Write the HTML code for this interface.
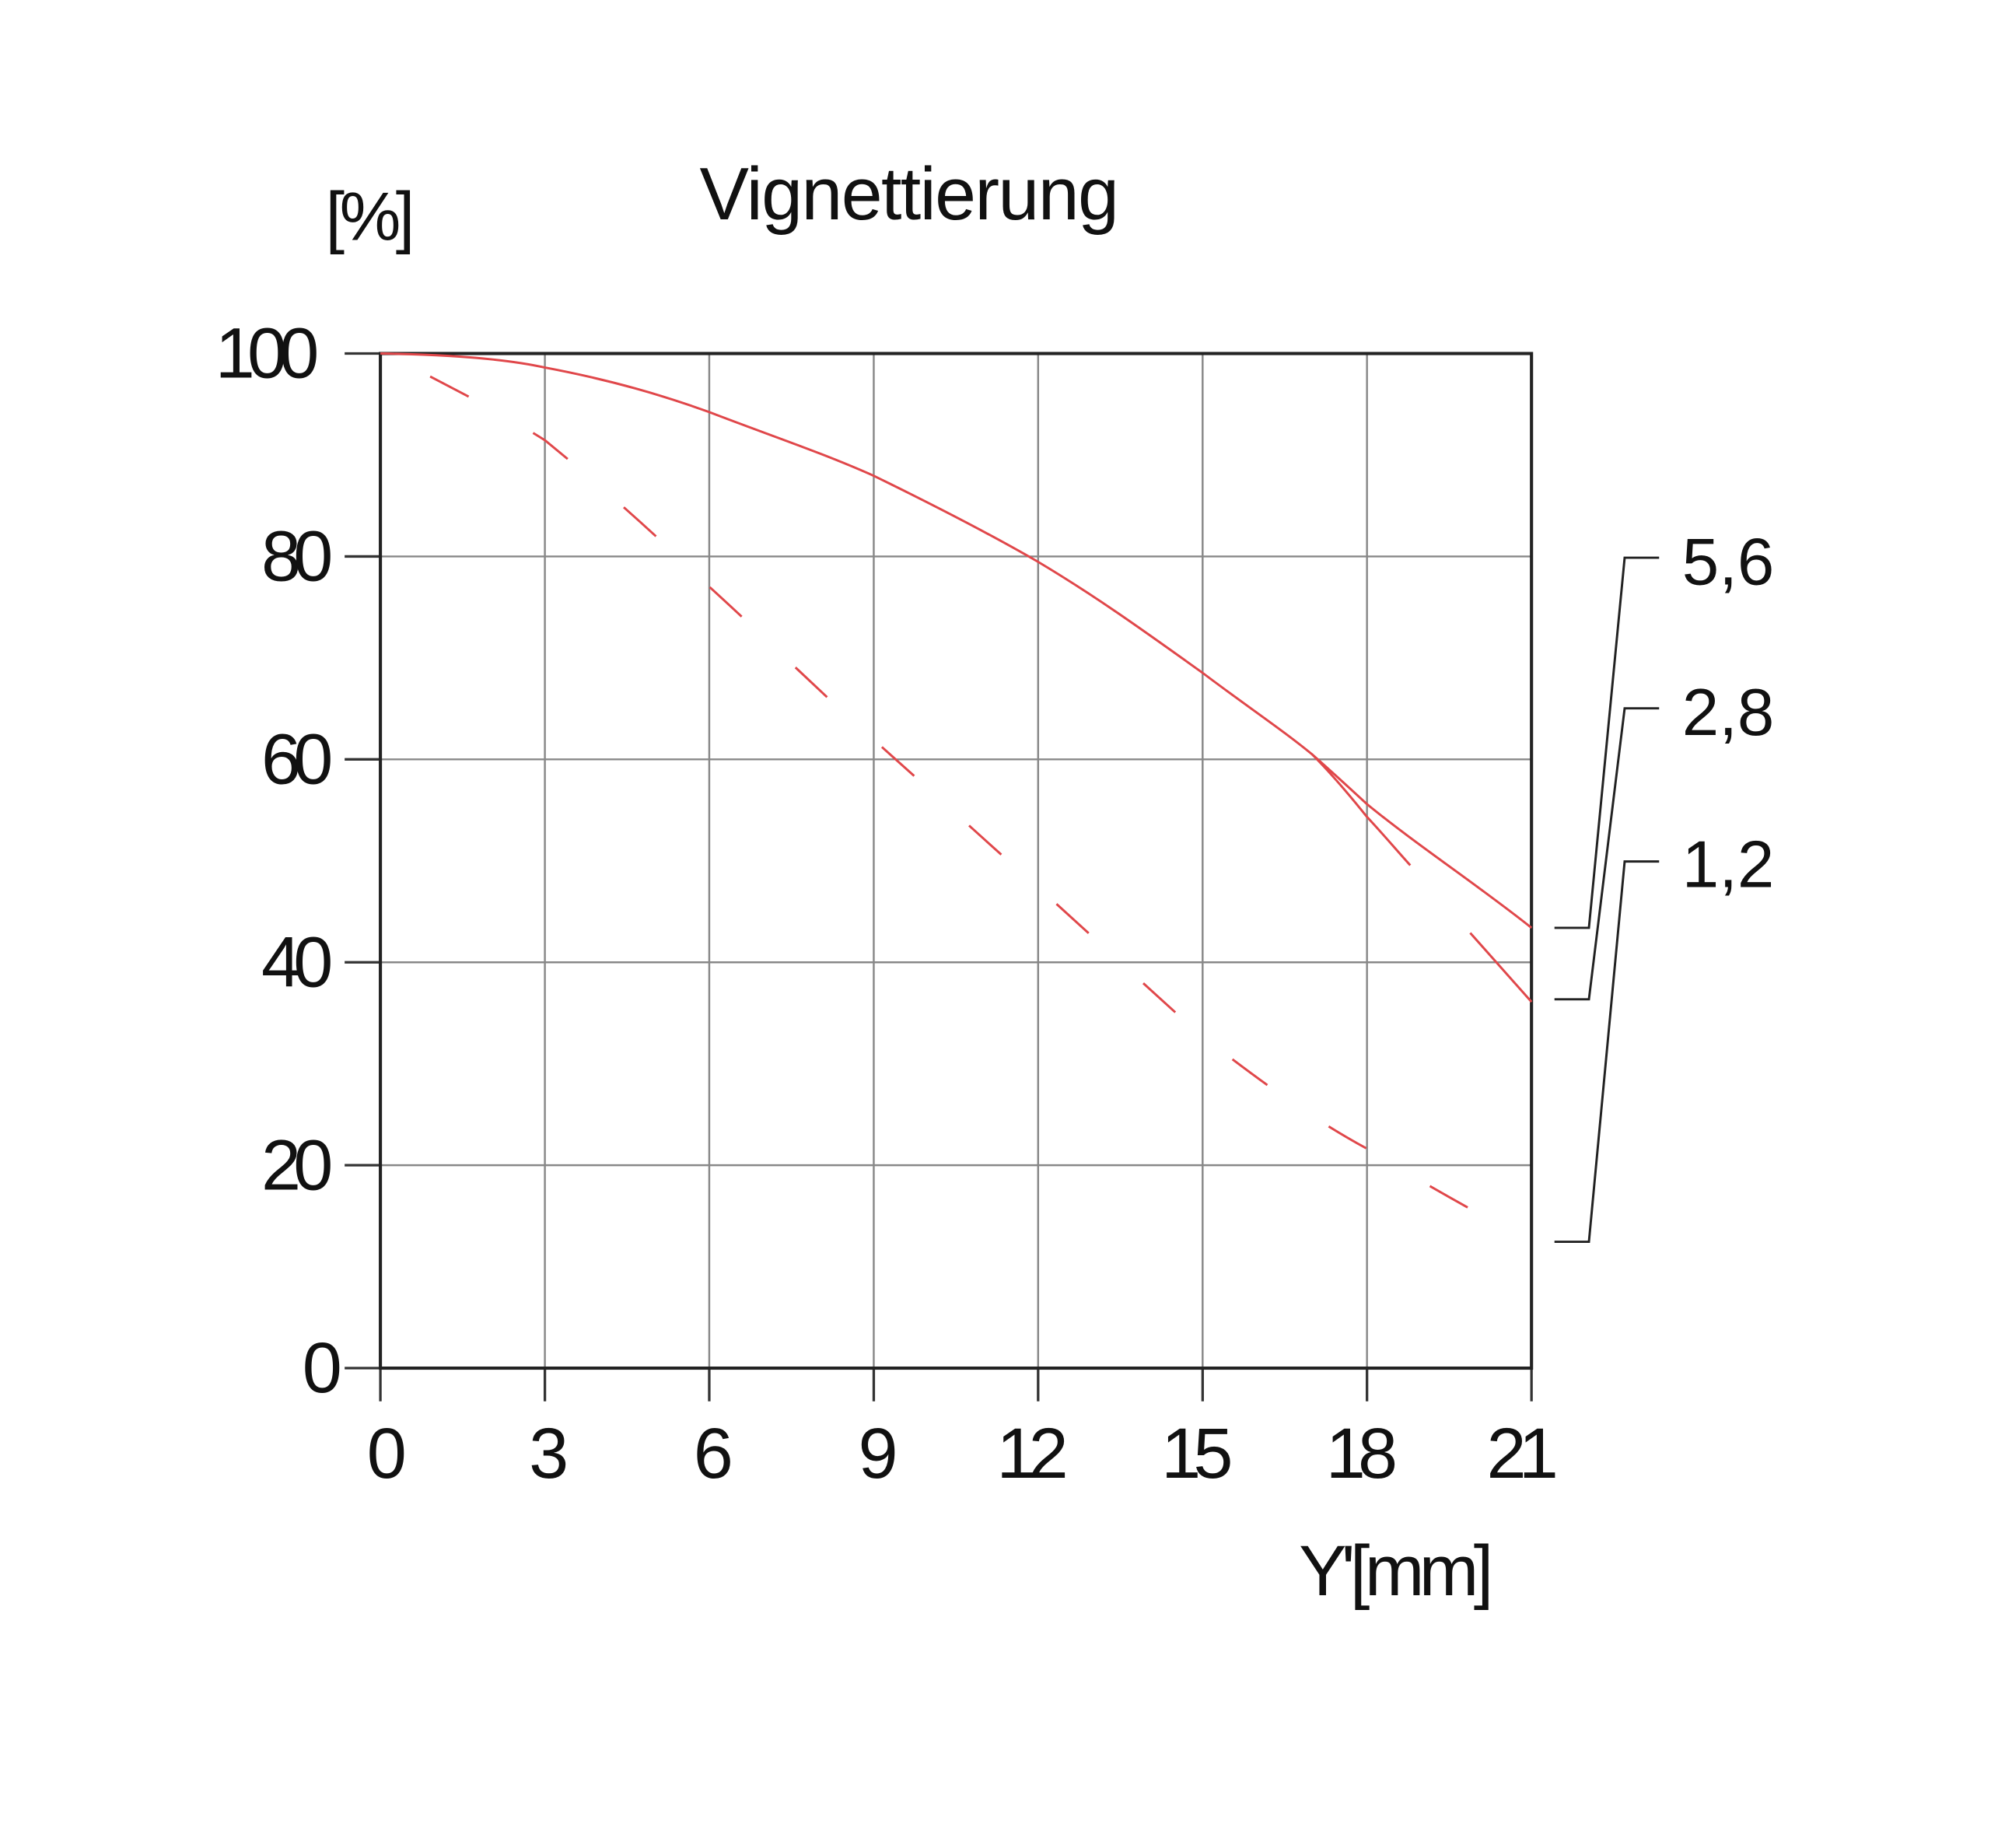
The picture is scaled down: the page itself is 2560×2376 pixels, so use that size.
<!DOCTYPE html>
<html><head><meta charset="utf-8"><style>html,body{margin:0;padding:0;background:#fff}svg{display:block}</style></head>
<body>
<svg width="2560" height="2376" viewBox="0 0 1560 1448" xmlns="http://www.w3.org/2000/svg">
<rect width="1560" height="1448" fill="#fff"/>
<g stroke="#888" stroke-width="1.5">
<line x1="426.9" y1="277" x2="426.9" y2="1072"/><line x1="555.7" y1="277" x2="555.7" y2="1072"/>
<line x1="684.6" y1="277" x2="684.6" y2="1072"/><line x1="813.4" y1="277" x2="813.4" y2="1072"/>
<line x1="942.3" y1="277" x2="942.3" y2="1072"/><line x1="1071.1" y1="277" x2="1071.1" y2="1072"/>
<line x1="298" y1="436" x2="1200" y2="436"/><line x1="298" y1="595" x2="1200" y2="595"/>
<line x1="298" y1="754" x2="1200" y2="754"/><line x1="298" y1="913" x2="1200" y2="913"/>
</g>
<g stroke="#333" stroke-width="2">
<line x1="426.9" y1="1072" x2="426.9" y2="1098"/><line x1="555.7" y1="1072" x2="555.7" y2="1098"/>
<line x1="684.6" y1="1072" x2="684.6" y2="1098"/><line x1="813.4" y1="1072" x2="813.4" y2="1098"/>
<line x1="942.3" y1="1072" x2="942.3" y2="1098"/><line x1="1071.1" y1="1072" x2="1071.1" y2="1098"/>
<line x1="1200" y1="1072" x2="1200" y2="1098"/><line x1="298" y1="1072" x2="298" y2="1098"/>
<line x1="270" y1="277" x2="298" y2="277"/><line x1="270" y1="436" x2="298" y2="436"/>
<line x1="270" y1="595" x2="298" y2="595"/><line x1="270" y1="754" x2="298" y2="754"/>
<line x1="270" y1="913" x2="298" y2="913"/><line x1="270" y1="1072" x2="298" y2="1072"/>
</g>
<rect x="298" y="277" width="902" height="795" fill="none" stroke="#222" stroke-width="2.5"/>
<g fill="none" stroke="#e0474a" stroke-width="1.8">
<path d="M298,277 C360,278 400,282 427,288 C480,298 520,310 556,323 C600,340 645,355 685,373 C730,395 775,418 813,440 C860,468 900,497 942,527 C975,552 1005,572 1028,591 C1045,606 1058,618 1071,630 C1110,662 1160,695 1200,727"/>
<path d="M1028,591 C1040,603 1055,620 1071,640 C1085,655 1095,667 1105,678"/>
<path d="M1152,731 L1200,785"/>
<path stroke-dasharray="34 58" d="M337,295 C370,312 400,328 427,345 C470,380 515,420 556,460 C600,500 640,540 685,580 C730,620 770,657 813,695 C860,737 900,775 942,812 C985,845 1025,875 1071,900 C1120,930 1160,952 1200,973"/>
</g>
<g fill="none" stroke="#222" stroke-width="1.8">
<polyline points="1218,727 1245,727 1273,437 1300,437"/>
<polyline points="1218,783 1245,783 1273,555 1300,555"/>
<polyline points="1218,973 1245,973 1273,675 1300,675"/>
</g>
<g font-family="Liberation Sans, sans-serif" fill="#111">
<text x="712" y="172" font-size="58" text-anchor="middle" letter-spacing="-1">Vignettierung</text>
<text x="288" y="188" font-size="54" text-anchor="middle" letter-spacing="-4">[%]</text>
<g font-size="56" text-anchor="end" letter-spacing="-6">
<text x="244" y="296">100</text><text x="255" y="455">80</text><text x="255" y="614">60</text>
<text x="255" y="773">40</text><text x="255" y="932">20</text><text x="262" y="1091">0</text>
</g>
<g font-size="56" text-anchor="middle" letter-spacing="-6">
<text x="300" y="1158">0</text><text x="427" y="1158">3</text><text x="556" y="1158">6</text>
<text x="685" y="1158">9</text><text x="806" y="1158">12</text><text x="935" y="1158">15</text>
<text x="1064" y="1158">18</text><text x="1190" y="1158">21</text>
</g>
<text x="1092" y="1250" font-size="56" text-anchor="middle" letter-spacing="-4">Y'[mm]</text>
<g font-size="52">
<text x="1318" y="458">5,6</text><text x="1318" y="576">2,8</text><text x="1318" y="695">1,2</text>
</g>
</g>
</svg>
</body></html>
